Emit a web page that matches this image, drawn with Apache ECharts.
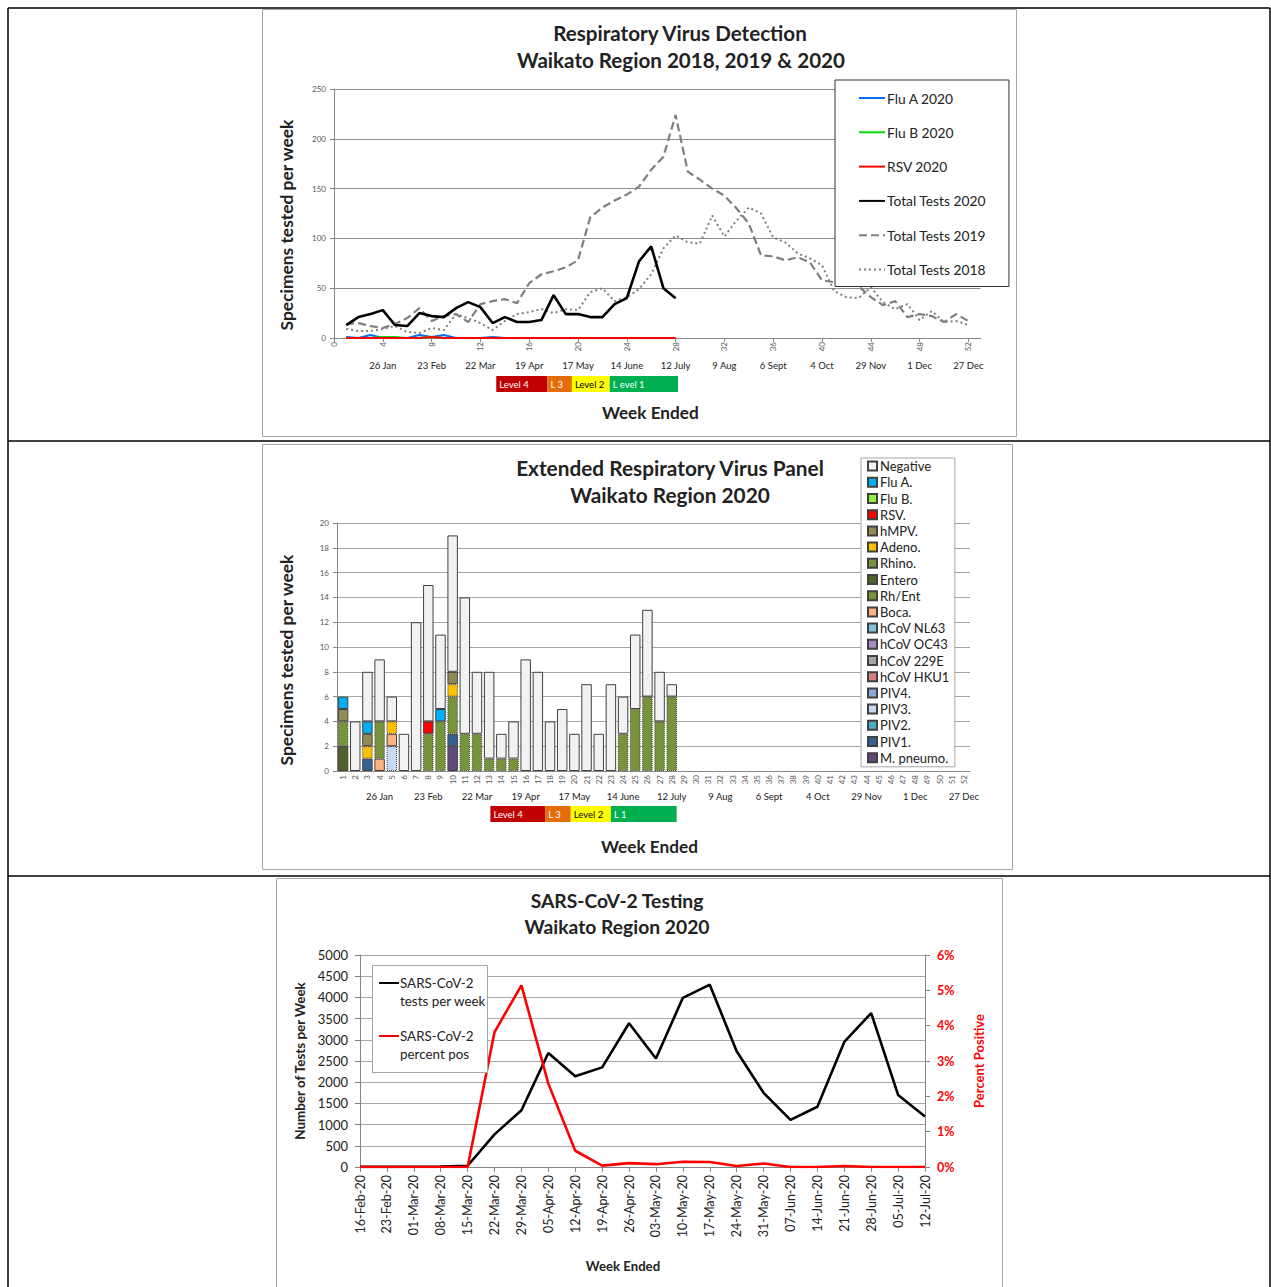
<!DOCTYPE html>
<html><head><meta charset="utf-8">
<script src="https://cdn.jsdelivr.net/npm/echarts@6/dist/echarts.min.js"></script>
<style>html,body{margin:0;padding:0;background:#fff}#c{width:1271px;height:1287px}</style>
</head><body><div id="c"></div>
<script>
const FONT = 'Lato, "Open Sans", sans-serif';

// ---------- Chart 1: Respiratory Virus Detection (weekly values, week 1 first)
const fluA2020 = [1,0,3,0,0,0,3,1,3,0,0,0,1,0,0,0,0,0,0,0,0,0,0,0,0,0,0,0];
const fluB2020 = [0,0,0,1,1,0,0,1,0,0,0,0,0,0,0,0,0,0,0,0,0,0,0,0,0,0,0,0];
const rsv2020  = [0,0,0,0,0,0,0,1,0,0,0,0,0,0,0,0,0,0,0,0,0,0,0,0,0,0,0,0];
const tot2020  = [13,21,24,28,13,12,25,22,21,30,36,31,15,21,16,16,18,43,24,24,21,21,34,40,77,92,50,40];
const tot2019  = [14,15,12,10,14,20,30,17,22,24,16,34,37,39,35,55,64,67,71,78,121,131,138,144,152,169,182,224,167,159,150,143,130,115,83,82,78,81,76,58,56,54,52,41,33,37,21,24,22,16,24,17];
const tot2018  = [9,7,7,9,12,6,5,10,8,24,20,15,8,17,24,26,29,25,29,28,46,50,37,41,49,64,90,103,96,95,123,102,118,131,125,101,96,85,80,73,47,41,40,51,36,29,34,18,27,16,17,13];
const dateLabels = ['26 Jan','23 Feb','22 Mar','19 Apr','17 May','14 June','12 July','9 Aug','6 Sept','4 Oct','29 Nov','1 Dec','27 Dec'];

// Alert levels (week positions of start/end of each level)
const levelNames1 = ['Level 4','L 3','Level 2','L evel 1'];
const levelNames2 = ['Level 4','L 3','Level 2','L 1'];
const levelColors = ['#c00000','#e46c0a','#ffff00','#00b050'];
const levelEdges1 = [13.3, 17.5, 19.5, 22.6, 28.2];
const levelEdges2 = [12.6, 17.1, 19.2, 22.5, 27.9];

// ---------- Chart 2: Extended Respiratory Virus Panel (weeks 1..28)
const weekCats = ['1','2','3','4','5','6','7','8','9','10','11','12','13','14','15','16','17','18','19','20','21','22','23','24','25','26','27','28','29','30','31','32','33','34','35','36','37','38','39','40','41','42','43','44','45','46','47','48','49','50','51','52'];
const negative = [0,4,4,5,2,3,12,11,6,11,11,5,7,2,3,9,8,4,5,3,7,3,7,3,6,7,4,1];
const fluA     = [1,0,1,0,0,0,0,0,1,0,0,0,0,0,0,0,0,0,0,0,0,0,0,0,0,0,0,0];
const fluB     = [];
const rsv      = [0,0,0,0,0,0,0,1];
const hmpv     = [1,0,1,0,0,0,0,0,0,1];
const adeno    = [0,0,1,0,1,0,0,0,0,1];
const rhino    = [2,0,0,3,0,0,0,3,4,3,3,3,1,1,1,0,0,0,0,0,0,0,0,3,5,6,4,6];
const entero   = [2];
const rhEnt    = [];
const boca     = [0,0,0,1,1];
const nl63 = [], oc43 = [], c229e = [], hku1 = [], piv4 = [];
const piv3     = [0,0,0,0,2];
const piv2     = [];
const piv1     = [0,0,1,0,0,0,0,0,0,1];
const mpneumo  = [0,0,0,0,0,0,0,0,0,2];

const ervpNames  = ['Negative','Flu A.','Flu B.','RSV.','hMPV.','Adeno.','Rhino.','Entero','Rh/Ent','Boca.','hCoV NL63','hCoV OC43','hCoV 229E','hCoV HKU1','PIV4.','PIV3.','PIV2.','PIV1.','M. pneumo.'];
const ervpData   = [negative,fluA,fluB,rsv,hmpv,adeno,rhino,entero,rhEnt,boca,nl63,oc43,c229e,hku1,piv4,piv3,piv2,piv1,mpneumo];
const ervpColors = ['#f2f2f2','#00b0f0','#8fef3f','#ff0000','#948a54','#ffc000','#77933c','#4f6228','#77933c','#fab27e','#7ec3d8','#a58cc4','#a6a6a6','#d98080','#8eaadb','#c6d9f1','#4bacc6','#376092','#604a7b'];
const ervpBorder = ['solid','solid','solid','solid','solid','dotted','dotted','solid','dotted','solid','solid','solid','solid','solid','solid','dotted','solid','solid','solid'];

// ---------- Chart 3: SARS-CoV-2 Testing
const sarsWeeks = ['16-Feb-20','23-Feb-20','01-Mar-20','08-Mar-20','15-Mar-20','22-Mar-20','29-Mar-20','05-Apr-20','12-Apr-20','19-Apr-20','26-Apr-20','03-May-20','10-May-20','17-May-20','24-May-20','31-May-20','07-Jun-20','14-Jun-20','21-Jun-20','28-Jun-20','05-Jul-20','12-Jul-20'];
const sarsTests = [2,3,5,8,30,770,1340,2690,2140,2350,3390,2560,3990,4300,2730,1750,1110,1420,2950,3630,1700,1190];
const sarsPos   = [0,0,0,0,0,3.82,5.14,2.36,0.46,0.04,0.11,0.08,0.15,0.14,0.03,0.1,0,0,0.03,0,0,0];

// ---------- build
const chart = echarts.init(document.getElementById('c'), null, {renderer:'svg'});
const txt = (o) => Object.assign({fontFamily: FONT, color:'#222'}, o);

function levelSeries(edges, names, xi, yi, id) {
  const out = [{name:id+'-start', type:'bar', stack:id, xAxisIndex:xi, yAxisIndex:yi, data:[edges[0]],
    itemStyle:{color:'rgba(0,0,0,0)'}, barWidth:16, silent:true}];
  names.forEach((n,k) => out.push({name:id+' '+n, type:'bar', stack:id, xAxisIndex:xi, yAxisIndex:yi,
    data:[+(edges[k+1]-edges[k]).toFixed(2)], barWidth:16, silent:true,
    itemStyle:{color:levelColors[k]},
    label:{show:true, position:'insideLeft', distance:3, formatter:n, color:k===2?'#000':'#fff', fontSize:9.5, fontFamily:FONT}}));
  return out;
}
const toPairs = arr => arr.map((v,i)=>[i+1,v]);

const series = [
  {name:'Total Tests 2018', type:'line', xAxisIndex:0, yAxisIndex:0, data:toPairs(tot2018), symbol:'none', z:2,
   lineStyle:{color:'#7f7f7f', width:2, type:[2,3]}, itemStyle:{color:'#7f7f7f'}},
  {name:'Total Tests 2019', type:'line', xAxisIndex:0, yAxisIndex:0, data:toPairs(tot2019), symbol:'none', z:2,
   lineStyle:{color:'#7f7f7f', width:2.2, type:[8,4]}, itemStyle:{color:'#7f7f7f'}},
  {name:'Flu A 2020', type:'line', xAxisIndex:0, yAxisIndex:0, data:toPairs(fluA2020), symbol:'none', z:3,
   lineStyle:{color:'#0070f0', width:2}, itemStyle:{color:'#0070f0'}},
  {name:'Flu B 2020', type:'line', xAxisIndex:0, yAxisIndex:0, data:toPairs(fluB2020), symbol:'none', z:3,
   lineStyle:{color:'#00dd00', width:2}, itemStyle:{color:'#00dd00'}},
  {name:'RSV 2020', type:'line', xAxisIndex:0, yAxisIndex:0, data:toPairs(rsv2020), symbol:'none', z:3,
   lineStyle:{color:'#ff0000', width:2}, itemStyle:{color:'#ff0000'}},
  {name:'Total Tests 2020', type:'line', xAxisIndex:0, yAxisIndex:0, data:toPairs(tot2020), symbol:'none', z:4,
   lineStyle:{color:'#000', width:2.6}, itemStyle:{color:'#000'}},
  ...levelSeries(levelEdges1, levelNames1, 2, 1, 'lvA'),
  ...levelSeries(levelEdges2, levelNames2, 5, 3, 'lvB'),
];
// stacked ERVP bars: bottom of stack is the last legend entry
for (let k = ervpNames.length-1; k >= 0; k--) {
  series.push({name:ervpNames[k], type:'bar', stack:'ervp', xAxisIndex:3, yAxisIndex:2, barWidth:'86%',
    data: weekCats.map((c,i)=> (ervpData[k][i] ? ervpData[k][i] : null)),
    itemStyle:{color:ervpColors[k], borderColor:'#404040', borderWidth:1, borderType:ervpBorder[k]}});
}
series.push(
  {name:'SARS-CoV-2\ntests per week', type:'line', xAxisIndex:6, yAxisIndex:4, data:sarsTests, symbol:'none',
   lineStyle:{color:'#000', width:2.6}, itemStyle:{color:'#000'}},
  {name:'SARS-CoV-2\npercent pos', type:'line', xAxisIndex:6, yAxisIndex:5, data:sarsPos, symbol:'none',
   lineStyle:{color:'#ff0000', width:2.6}, itemStyle:{color:'#ff0000'}}
);

const axLine = {lineStyle:{color:'#868686'}};
const titleStyle = (t, size) => ({text:t, fontFamily:FONT, fontSize:size, fontWeight:'bold', fill:'#222', align:'center', verticalAlign:'middle'});
const option = {
  backgroundColor:'#fff',
  animation:false,
  textStyle:{fontFamily:FONT},
  graphic:[
    {type:'line', shape:{x1:8,y1:8,x2:1270,y2:8}, style:{stroke:'#000',lineWidth:1.5}},
    {type:'line', shape:{x1:8,y1:441,x2:1270,y2:441}, style:{stroke:'#000',lineWidth:1.5}},
    {type:'line', shape:{x1:8,y1:876,x2:1270,y2:876}, style:{stroke:'#000',lineWidth:1.5}},
    {type:'line', shape:{x1:8,y1:8,x2:8,y2:1287}, style:{stroke:'#000',lineWidth:1.5}},
    {type:'line', shape:{x1:1270,y1:8,x2:1270,y2:1287}, style:{stroke:'#000',lineWidth:1.5}},
    {type:'rect', shape:{x:262.5,y:9.5,width:754,height:427}, style:{fill:'none',stroke:'#a6a6a6',lineWidth:1}},
    {type:'rect', shape:{x:262.5,y:444.5,width:750,height:425}, style:{fill:'none',stroke:'#a6a6a6',lineWidth:1}},
    {type:'rect', shape:{x:276.5,y:878.5,width:726,height:420}, style:{fill:'none',stroke:'#a6a6a6',lineWidth:1}},
    // frame of the SARS-CoV-2 legend box
    {type:'rect', z:5, shape:{x:372.5,y:965.5,width:115,height:107}, style:{fill:'#fff',stroke:'#a6a6a6',lineWidth:1}},
    {type:'text', x:680, y:33, style:titleStyle('Respiratory Virus Detection', 20.6)},
    {type:'text', x:681, y:60, style:titleStyle('Waikato Region 2018, 2019 & 2020', 20.6)},
    {type:'text', x:670, y:467, style:titleStyle('Extended Respiratory Virus Panel', 20.8)},
    {type:'text', x:670, y:494, style:titleStyle('Waikato Region 2020', 20.8)},
    {type:'text', x:617, y:900, style:titleStyle('SARS-CoV-2 Testing', 19.3)},
    {type:'text', x:617, y:926, style:titleStyle('Waikato Region 2020', 19.3)}
  ],
  legend:[
    {data:['Flu A 2020','Flu B 2020','RSV 2020','Total Tests 2020','Total Tests 2019','Total Tests 2018'],
     orient:'vertical', left:835, top:80, padding:[11,23,10,23], itemWidth:26, itemHeight:14, itemGap:20.3,
     backgroundColor:'#fff', borderColor:'#333', borderWidth:1, selectedMode:false, z:10,
     itemStyle:{opacity:0},
     textStyle:txt({fontSize:13.8, lineHeight:14, padding:[0,0,0,-3]})},
    {data:ervpNames, orient:'vertical', left:861, top:458, padding:[0,5,1,6], itemWidth:9, itemHeight:9, itemGap:0,
     icon:'rect', backgroundColor:'#fff', borderColor:'#a6a6a6', borderWidth:1, selectedMode:false, z:10,
     textStyle:txt({fontSize:13, lineHeight:16.2, padding:[0,0,0,-2]})},
    {data:['SARS-CoV-2\ntests per week','SARS-CoV-2\npercent pos'], orient:'vertical', left:378, top:956.75,
     padding:0, itemWidth:20, itemHeight:14, itemGap:0.5,
     itemStyle:{opacity:0}, formatter: n => '\n' + n,
     selectedMode:false, z:10, textStyle:txt({fontSize:13.4, lineHeight:17.5, padding:[0,0,0,-4]})}
  ],
  grid:[
    {left:334, top:89, width:646.6, height:249},
    {left:334, top:376, width:646.6, height:16},
    {left:337, top:523, width:633, height:248},
    {left:337, top:806, width:633, height:16},
    {left:360, top:955, width:565, height:212}
  ],
  xAxis:[
    {type:'value', gridIndex:0, min:0, max:53, interval:4, axisLine:axLine, axisTick:{show:true,length:4,lineStyle:{color:'#868686'}},
     splitLine:{show:false}, axisLabel:{rotate:90, fontSize:8, color:'#595959', margin:4, showMaxLabel:false, formatter:v=> v>52?'':String(v)},
     name:'Week Ended', nameLocation:'middle', nameGap:66, nameTextStyle:txt({fontSize:17.2, fontWeight:'bold', padding:[0,14,0,0]})},
    {type:'value', gridIndex:0, min:0, max:53, interval:4, position:'bottom', axisLine:{show:false}, axisTick:{show:false},
     splitLine:{show:false}, axisLabel:{margin:22, fontSize:9.5, color:'#222', showMaxLabel:false,
     formatter:v=> (v>0 && v<=52) ? dateLabels[v/4-1] : ''}},
    {type:'value', gridIndex:1, min:0, max:53, show:false},
    {type:'category', gridIndex:2, data:weekCats, axisLine:axLine, axisTick:{interval:0,length:4,lineStyle:{color:'#868686'}},
     axisLabel:{interval:0, rotate:90, fontSize:8, color:'#595959', margin:4},
     name:'Week Ended', nameLocation:'middle', nameGap:67, nameTextStyle:txt({fontSize:17.2, fontWeight:'bold', padding:[0,8,0,0]})},
    {type:'category', gridIndex:2, data:weekCats, position:'bottom', axisLine:{show:false}, axisTick:{show:false},
     axisLabel:{interval:(i)=>(i+1)%4===0, formatter:(v,i)=>dateLabels[(i+1)/4-1], margin:20, fontSize:9.5, color:'#222'}},
    {type:'value', gridIndex:3, min:0, max:52, show:false},
    {type:'category', gridIndex:4, data:sarsWeeks, boundaryGap:false, axisLine:axLine,
     axisTick:{interval:0,length:5,lineStyle:{color:'#868686'}},
     axisLabel:{interval:0, rotate:90, fontSize:12.5, color:'#222', margin:8},
     name:'Week Ended', nameLocation:'middle', nameGap:92, nameTextStyle:txt({fontSize:13.2, fontWeight:'bold', padding:[0,39,0,0]})}
  ],
  yAxis:[
    {type:'value', gridIndex:0, min:0, max:250, interval:50, axisLine:{show:true,lineStyle:{color:'#868686'}},
     axisTick:{show:true,length:4,lineStyle:{color:'#868686'}}, axisLabel:{fontSize:8, color:'#595959', margin:8},
     splitLine:{lineStyle:{color:'#8c8c8c'}},
     name:'Specimens tested per week', nameLocation:'middle', nameGap:39,
     nameTextStyle:txt({fontSize:17.4, fontWeight:'bold', padding:[0,23,0,0]})},
    {type:'category', gridIndex:1, data:['lv'], show:false},
    {type:'value', gridIndex:2, min:0, max:20, interval:2, axisLine:{show:true,lineStyle:{color:'#868686'}},
     axisTick:{show:true,length:4,lineStyle:{color:'#868686'}}, axisLabel:{fontSize:8, color:'#595959', margin:8},
     splitLine:{lineStyle:{color:'#a6a6a6'}},
     name:'Specimens tested per week', nameLocation:'middle', nameGap:42,
     nameTextStyle:txt({fontSize:17.4, fontWeight:'bold', padding:[0,26,0,0]})},
    {type:'category', gridIndex:3, data:['lv'], show:false},
    {type:'value', gridIndex:4, min:0, max:5000, interval:500, position:'left', axisLine:{show:true,lineStyle:{color:'#868686'}},
     axisTick:{show:true,length:5,lineStyle:{color:'#868686'}}, axisLabel:{fontSize:13, color:'#222', margin:12, formatter:v=>String(v)},
     splitLine:{lineStyle:{color:'#a6a6a6'}},
     name:'Number of Tests per Week', nameLocation:'middle', nameGap:54, nameTextStyle:txt({fontSize:13.4, fontWeight:'bold'})},
    {type:'value', gridIndex:4, min:0, max:6, interval:1, position:'right', axisLine:{show:true,lineStyle:{color:'#868686'}},
     axisTick:{show:true,length:5,lineStyle:{color:'#868686'}}, splitLine:{show:false},
     axisLabel:{formatter:'{value}%', color:'#ff0000', fontWeight:'bold', fontSize:12.5, margin:12},
     name:'Percent Positive', nameLocation:'middle', nameGap:47, nameRotate:90,
     nameTextStyle:txt({fontSize:13, fontWeight:'bold', color:'#ff0000'})}
  ],
  series
};
chart.setOption(option);
</script></body></html>
